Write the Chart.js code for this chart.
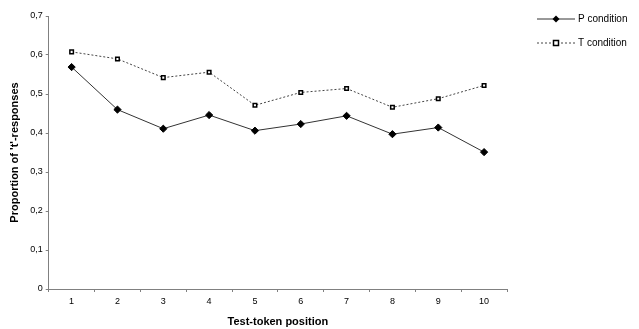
<!DOCTYPE html>
<html>
<head>
<meta charset="utf-8">
<script src="https://cdn.jsdelivr.net/npm/chart.js@4/dist/chart.umd.min.js"></script>
<style>
  html, body { margin: 0; padding: 0; background: #fff; }
  #wrap { width: 639px; height: 329px; }
</style>
</head>
<body>
<div id="wrap"><canvas id="chart"></canvas></div>
<script>
// values
const positions = ['1', '2', '3', '4', '5', '6', '7', '8', '9', '10'];
const pCondition = [0.569, 0.460, 0.411, 0.446, 0.406, 0.423, 0.444, 0.397, 0.414, 0.351];
const tCondition = [0.608, 0.590, 0.542, 0.556, 0.471, 0.504, 0.514, 0.466, 0.488, 0.522];
const seriesNames = ['P condition', 'T condition'];

const axisGray = '#808080';
const font = 'Liberation Sans, Arial, sans-serif';

// legend drawn by hand: short line with the marker in the middle, like the original
const lineLegend = {
  id: 'lineLegend',
  afterDraw(chart) {
    const ctx = chart.ctx;
    const x0 = 537, x1 = 575;
    chart.data.datasets.forEach((ds, i) => {
      const y = 19 + i * 24;
      ctx.save();
      ctx.strokeStyle = ds.borderColor;
      ctx.lineWidth = 1;
      ctx.setLineDash(ds.borderDash || []);
      ctx.beginPath();
      ctx.moveTo(x0, y);
      ctx.lineTo(x1, y);
      ctx.stroke();
      ctx.setLineDash([]);
      const cx = (x0 + x1) / 2;
      ctx.fillStyle = ds.pointBackgroundColor;
      ctx.strokeStyle = ds.pointBorderColor;
      ctx.lineWidth = ds.pointBorderWidth;
      if (ds.pointStyle === 'rectRot') {
        ctx.beginPath();
        ctx.moveTo(cx, y - 3.5); ctx.lineTo(cx + 3.5, y);
        ctx.lineTo(cx, y + 3.5); ctx.lineTo(cx - 3.5, y);
        ctx.closePath(); ctx.fill();
      } else {
        ctx.fillRect(cx - 2.5, y - 2.5, 5, 5);
        ctx.strokeRect(cx - 2.5, y - 2.5, 5, 5);
      }
      ctx.fillStyle = '#000';
      ctx.font = '10px ' + font;
      ctx.textBaseline = 'middle';
      ctx.fillText(ds.label, x1 + 3, y);
      ctx.restore();
    });
  }
};

new Chart(document.getElementById('chart'), {
  type: 'line',
  data: {
    labels: positions,
    datasets: [
      {
        label: seriesNames[0],
        data: pCondition,
        borderColor: '#333',
        borderWidth: 1,
        pointStyle: 'rectRot',
        pointRadius: 3.6,
        pointBackgroundColor: '#000',
        pointBorderColor: '#000',
        pointBorderWidth: 1,
        tension: 0
      },
      {
        label: seriesNames[1],
        data: tCondition,
        borderColor: '#444',
        borderWidth: 1,
        borderDash: [2, 2],
        pointStyle: 'rect',
        pointRadius: 2.5,
        pointBackgroundColor: '#fff',
        pointBorderColor: '#000',
        pointBorderWidth: 1.5,
        tension: 0
      }
    ]
  },
  options: {
    responsive: true,
    maintainAspectRatio: false,
    animation: false,
    layout: { padding: { left: 4, top: 16, right: 132, bottom: -4 } },
    plugins: {
      legend: { display: false },
      tooltip: { enabled: false }
    },
    scales: {
      x: {
        offset: true,
        grid: { drawOnChartArea: false, tickColor: axisGray, tickLength: 3, offset: true },
        border: { color: axisGray },
        ticks: { color: '#000', font: { family: font, size: 9 }, padding: 4, maxRotation: 0 },
        title: { display: true, text: 'Test-token position', color: '#000', font: { family: font, size: 11, weight: 'bold' }, padding: { top: 5 } }
      },
      y: {
        min: 0,
        max: 0.7,
        grid: { drawOnChartArea: false, tickColor: axisGray, tickLength: 3 },
        border: { color: axisGray },
        ticks: {
          stepSize: 0.1,
          color: '#000',
          font: { family: font, size: 9 },
          padding: 3,
          callback: v => (Math.round(v * 10) / 10).toString().replace('.', ',')
        },
        title: { display: true, text: "Proportion of 't'-responses", color: '#000', font: { family: font, size: 11, weight: 'bold' }, padding: { bottom: 6 } }
      }
    }
  },
  plugins: [lineLegend]
});
</script>
</body>
</html>
